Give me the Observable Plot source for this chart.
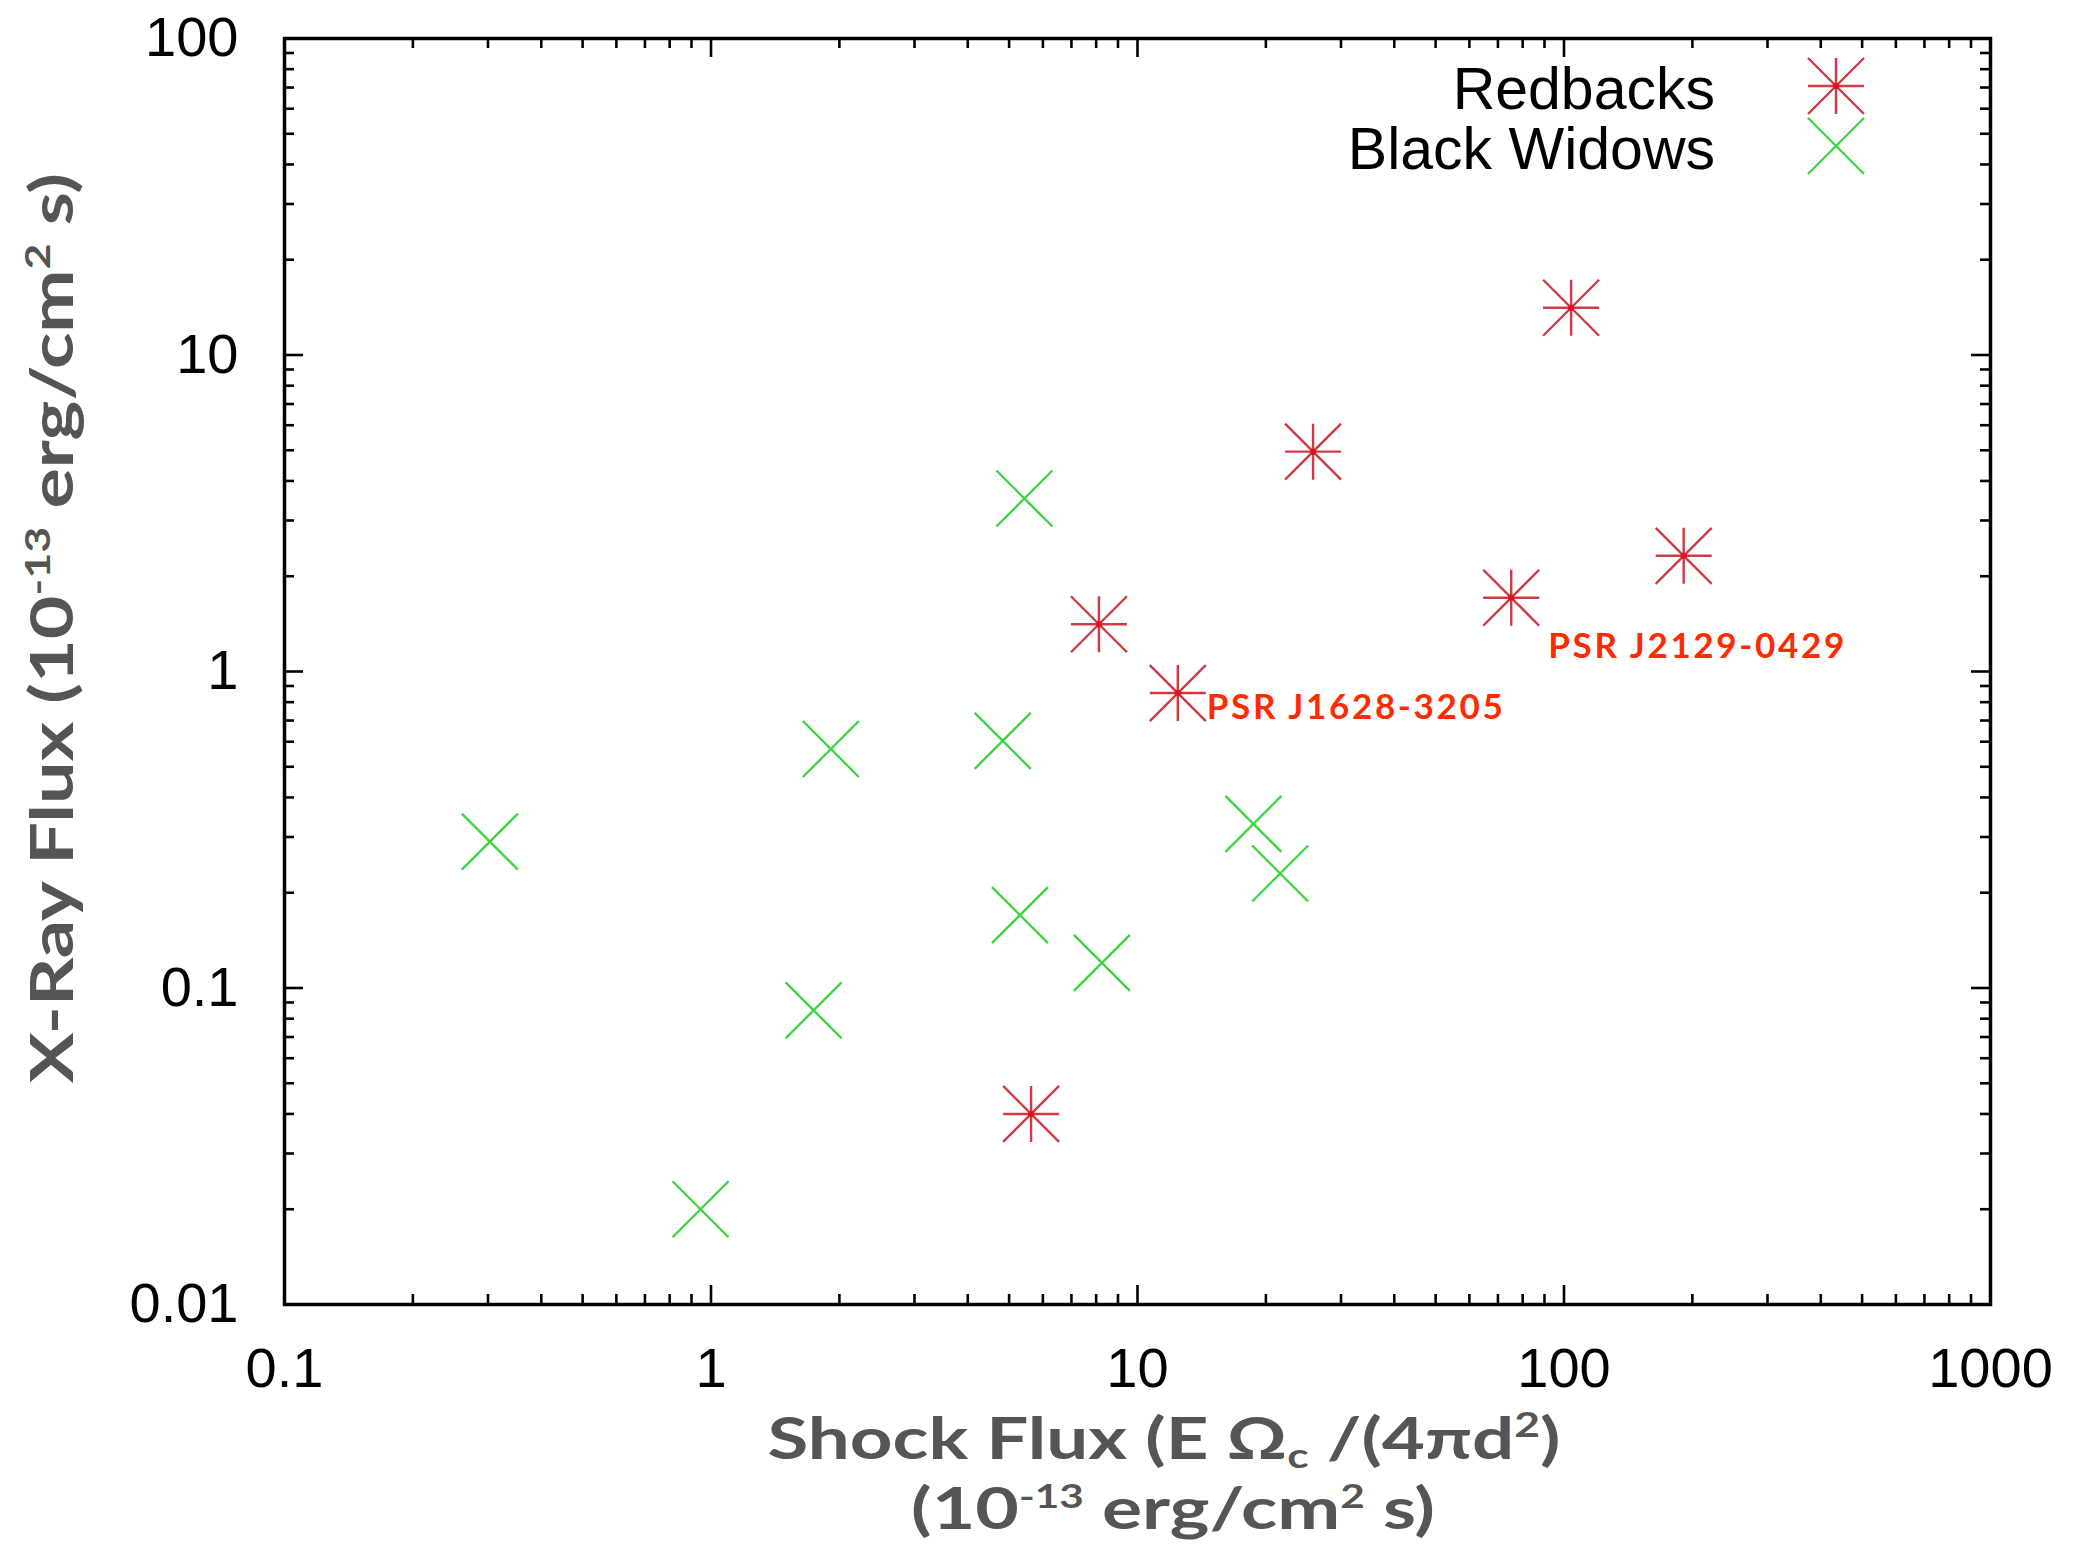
<!DOCTYPE html>
<html><head><meta charset="utf-8">
<script src="https://cdn.jsdelivr.net/npm/d3@7"></script>
<script src="https://cdn.jsdelivr.net/npm/@observablehq/plot@0.6"></script>
<style>html,body{margin:0;padding:0;background:#fff}</style>
</head><body><div id="chart"></div>
<script>
// ---- data ----
const redbackX = [103.9, 25.8, 190.8, 75.2, 8.12, 12.43, 5.63];
const redbackY = [14.1, 4.95, 2.32, 1.71, 1.41, 0.855, 0.040];
const redbackLabel = ["", "", "", "PSR J2129-0429", "", "PSR J1628-3205", ""];
const widowX = [5.43, 1.91, 4.83, 0.303, 18.7, 21.6, 5.30, 8.25, 1.74, 0.945];
const widowY = [3.52, 0.569, 0.604, 0.290, 0.330, 0.230, 0.170, 0.120, 0.085, 0.020];
const seriesNames = ["Redbacks", "Black Widows"];
const seriesColors = ["#cf3a44", "#40d440"];
const xTicks = [0.1, 1, 10, 100, 1000];
const yTicks = [0.01, 0.1, 1, 10, 100];
const minorMultipliers = [2, 3, 4, 5, 6, 7, 8, 9];

// ---- derived tables ----
const redbacks = redbackX.map((x, i) => ({x, y: redbackY[i], label: redbackLabel[i]}));
const widows = widowX.map((x, i) => ({x, y: widowY[i]}));
const minorsOf = ticks => ticks.slice(0, -1).flatMap(t => minorMultipliers.map(m => t * m));
const xMinor = minorsOf(xTicks), yMinor = minorsOf(yTicks);

// gnuplot-like symbols
const asterisk = {draw(ctx, size) {
  const r = Math.sqrt(size / Math.PI);
  ctx.moveTo(-r, 0); ctx.lineTo(r, 0);
  ctx.moveTo(0, -r); ctx.lineTo(0, r);
  ctx.moveTo(-r, -r); ctx.lineTo(r, r);
  ctx.moveTo(-r, r); ctx.lineTo(r, -r);
}};
const cross = {draw(ctx, size) {
  const r = Math.sqrt(size / Math.PI);
  ctx.moveTo(-r, -r); ctx.lineTo(r, r);
  ctx.moveTo(-r, r); ctx.lineTo(r, -r);
}};

const W = 2083, H = 1547;
const mTop = 38, mRight = 93, mBottom = 243, mLeft = 284;
const plotW = W - mLeft - mRight, plotH = H - mTop - mBottom;
const majorLen = 19, minorLen = 10, tickW = 2.6;
const symR = 28;
const labelFont = "Lato, 'Open Sans', sans-serif";

const plot = Plot.plot({
  width: W, height: H,
  marginTop: mTop, marginRight: mRight, marginBottom: mBottom, marginLeft: mLeft,
  style: {background: "white", fontFamily: "'Liberation Sans', Arial, Helvetica, sans-serif", color: "black"},
  x: {type: "log", domain: [0.1, 1000]},
  y: {type: "log", domain: [0.01, 100]},
  marks: [
    // inward ticks on all four sides (mirrored like gnuplot)
    Plot.ruleX(xTicks, {x: d => d, insetTop: plotH - majorLen, stroke: "black", strokeWidth: tickW}),
    Plot.ruleX(xTicks, {x: d => d, insetBottom: plotH - majorLen, stroke: "black", strokeWidth: tickW}),
    Plot.ruleX(xMinor, {x: d => d, insetTop: plotH - minorLen, stroke: "black", strokeWidth: tickW}),
    Plot.ruleX(xMinor, {x: d => d, insetBottom: plotH - minorLen, stroke: "black", strokeWidth: tickW}),
    Plot.ruleY(yTicks, {y: d => d, insetRight: plotW - majorLen, stroke: "black", strokeWidth: tickW}),
    Plot.ruleY(yTicks, {y: d => d, insetLeft: plotW - majorLen, stroke: "black", strokeWidth: tickW}),
    Plot.ruleY(yMinor, {y: d => d, insetRight: plotW - minorLen, stroke: "black", strokeWidth: tickW}),
    Plot.ruleY(yMinor, {y: d => d, insetLeft: plotW - minorLen, stroke: "black", strokeWidth: tickW}),
    Plot.frame({stroke: "black", strokeWidth: 3.5}),
    Plot.axisX({ticks: xTicks, tickSize: 0, tickPadding: 43, tickFormat: d => String(d), fontSize: 56, label: null}),
    Plot.axisY({ticks: yTicks, tickSize: 0, tickPadding: 46, tickFormat: d => String(d), fontSize: 56, label: null}),
    // data
    Plot.dot(widows, {x: "x", y: "y", symbol: cross, r: symR, fill: "none", stroke: seriesColors[1], strokeWidth: 2.4}),
    Plot.dot(redbacks, {x: "x", y: "y", symbol: asterisk, r: symR, fill: "none", stroke: seriesColors[0], strokeWidth: 2.4}),
    Plot.dot(redbacks, {x: "x", y: "y", r: 3, fill: "#e0141e"}),
    Plot.text(redbacks.filter(d => d.label === "PSR J1628-3205"), {x: "x", y: "y", text: "label", textAnchor: "start", dx: 29, dy: 15,
      fill: "#ff2a00", fontSize: 35, fontWeight: 700, fontFamily: labelFont, className: "psr-label"}),
    Plot.text(redbacks.filter(d => d.label === "PSR J2129-0429"), {x: "x", y: "y", text: "label", textAnchor: "start", dx: 37, dy: 49,
      fill: "#ff2a00", fontSize: 35, fontWeight: 700, fontFamily: labelFont, className: "psr-label"})
  ]
});

const svg = d3.select(plot);
// widen the point labels to the reference's Gill Sans width
svg.selectAll(".psr-label text").attr("textLength", 296).attr("lengthAdjust", "spacing");

const titleFont = "Lato, 'Open Sans', sans-serif";
const titleColor = "#555555";
function styled(t, size) {
  return t.attr("font-family", titleFont).attr("font-weight", 700).attr("font-size", size).attr("fill", titleColor);
}
// x-axis title, line 1
const xt1 = styled(svg.append("text"), 57).attr("x", 1164).attr("y", 1459).attr("text-anchor", "middle")
  .attr("textLength", 793).attr("lengthAdjust", "spacingAndGlyphs");
xt1.append("tspan").text("Shock Flux (E Ω");
xt1.append("tspan").attr("font-size", 34).attr("dy", 9).text("c");
xt1.append("tspan").attr("dy", -9).text(" /(4πd");
xt1.append("tspan").attr("font-size", 34).attr("dy", -22).text("2");
xt1.append("tspan").attr("dy", 22).text(")");
// x-axis title, line 2
const xt2 = styled(svg.append("text"), 57).attr("x", 1173).attr("y", 1529).attr("text-anchor", "middle")
  .attr("textLength", 524).attr("lengthAdjust", "spacingAndGlyphs");
xt2.append("tspan").text("(10");
xt2.append("tspan").attr("font-size", 32).attr("dy", -21).text("-13");
xt2.append("tspan").attr("dy", 21).text(" erg/cm");
xt2.append("tspan").attr("font-size", 32).attr("dy", -21).text("2");
xt2.append("tspan").attr("dy", 21).text(" s)");
// y-axis title
const yt = styled(svg.append("text"), 59).attr("transform", "translate(73,628) rotate(-90)").attr("text-anchor", "middle")
  .attr("textLength", 910).attr("lengthAdjust", "spacingAndGlyphs");
yt.append("tspan").text("X-Ray Flux (10");
yt.append("tspan").attr("font-size", 35).attr("dy", -23).text("-13");
yt.append("tspan").attr("dy", 23).text(" erg/cm");
yt.append("tspan").attr("font-size", 35).attr("dy", -23).text("2");
yt.append("tspan").attr("dy", 23).text(" s)");

// legend (inside the frame, top right, gnuplot style)
const legend = svg.append("g");
const legendSymbols = [asterisk, cross];
seriesNames.forEach((name, i) => {
  const cy = 88 + i * 60;
  legend.append("text").attr("x", 1715).attr("y", cy).attr("dy", "0.35em").attr("text-anchor", "end")
    .attr("font-family", "'Liberation Sans', Arial, sans-serif").attr("font-size", 59).attr("fill", "black").text(name);
  legend.append("path").attr("transform", `translate(1836,${cy - 2})`)
    .attr("d", d3.symbol(legendSymbols[i], symR * symR * Math.PI)())
    .attr("fill", "none").attr("stroke", seriesColors[i]).attr("stroke-width", 2.4);
  if (i === 0) legend.append("circle").attr("cx", 1836).attr("cy", cy - 2).attr("r", 3).attr("fill", "#e0141e");
});

document.getElementById("chart").appendChild(plot);
</script>
</body></html>
